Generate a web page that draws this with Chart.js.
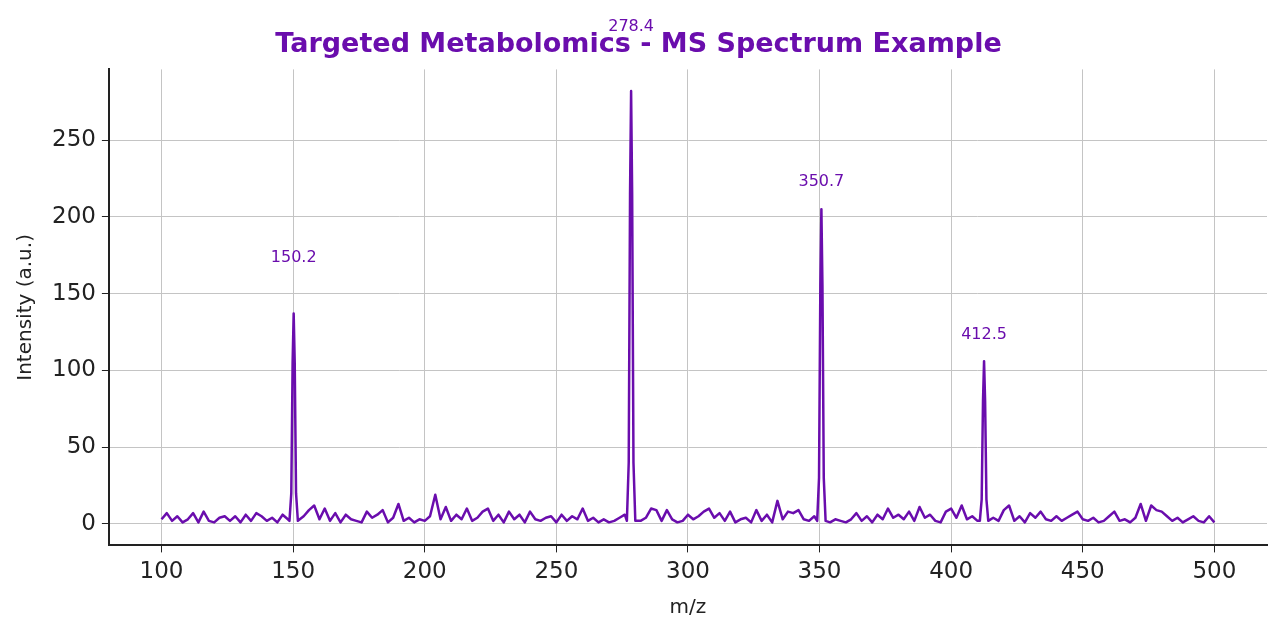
<!DOCTYPE html>
<html>
<head>
<meta charset="utf-8">
<script src="https://cdn.jsdelivr.net/npm/chart.js@4"></script>
<style>
  body { margin: 0; background: #fff; }
  #wrap { width: 1283px; height: 632px; }
</style>
</head>
<body>
<div id="wrap"><canvas id="spec" width="1283" height="632"></canvas></div>
<script>
// baseline noise, sampled every 2 m/z from 100 to 500
const noiseStart = 100;
const noiseStep = 2;
const noise = [
  3,7,2,5,1,3,7,1,8,2,   1,4,5,2,5,1,6,2,7,5,
  2,4,1,6,3,2,1,5,9,12,  3,10,2,7,1,6,3,2,1,8,
  4,6,9,1,4,13,2,4,1,3,  2,5,19,3,11,2,6,3,10,2,
  4,8,10,2,6,1,8,3,6,1,  8,3,2,4,5,1,6,2,5,3,
  10,2,4,1,3,1,2,4,6,2,  3,2,4,10,9,2,9,3,1,2,
  6,3,5,8,10,4,7,2,8,1,  3,4,1,9,2,6,1,15,3,8,
  7,9,3,2,5,2,1,1,3,2,   1,3,7,2,5,1,6,3,10,4,
  6,3,8,2,11,4,6,2,1,8,  10,4,12,3,5,2,1,8,4,2,
  9,12,2,5,1,7,4,8,3,2,  5,2,4,6,8,3,2,4,1,2,
  5,8,2,3,1,4,13,2,12,9, 8,5,2,4,1,3,5,2,1,5,
  1
];

// targeted peaks
const peakMz = [150.2, 278.4, 350.7, 412.5];
const peakX = [
  [148.6, 149.3, 149.8, 150.2, 150.6, 151.1, 151.8],
  [276.8, 277.5, 278.0, 278.4, 278.8, 279.3, 280.0],
  [349.1, 349.8, 350.3, 350.7, 351.1, 351.6, 352.3],
  [410.9, 411.6, 412.1, 412.5, 412.9, 413.4, 414.1]
];
const peakY = [
  [2, 20, 105, 137, 105, 20, 2],
  [2, 40, 215, 282, 215, 40, 2],
  [2, 30, 155, 205, 155, 30, 2],
  [2, 16, 80, 106, 80, 16, 2]
];
const labelY = [173, 324, 223, 123];

const purple = '#6a0dad';
const points = [];
noise.forEach((v, i) => {
  const x = noiseStart + i * noiseStep;
  if (peakMz.some(p => Math.abs(p - x) < 2)) return;
  points.push({ x: x, y: v });
});
peakX.forEach((xs, k) => xs.forEach((x, j) => points.push({ x: x, y: peakY[k][j] })));
points.sort((a, b) => a.x - b.x);

// peak labels above each target
const peakLabels = {
  id: 'peakLabels',
  afterDraw(chart) {
    const { ctx, scales: { x, y } } = chart;
    ctx.save();
    ctx.fillStyle = purple;
    ctx.font = '16px "DejaVu Sans"';
    ctx.textAlign = 'center';
    ctx.textBaseline = 'middle';
    peakMz.forEach((m, k) => {
      ctx.fillText(m.toFixed(1), x.getPixelForValue(m), y.getPixelForValue(labelY[k]));
    });
    ctx.restore();
  }
};

const grid = { color: '#c4c4c4', lineWidth: 1, tickLength: 7, tickColor: '#222' };

new Chart(document.getElementById('spec').getContext('2d'), {
  type: 'line',
  data: {
    datasets: [{
      data: points,
      borderColor: purple,
      borderWidth: 2.5,
      borderJoinStyle: 'round',
      pointRadius: 0,
      tension: 0,
      fill: false
    }]
  },
  options: {
    responsive: false,
    animation: false,
    layout: { padding: { left: 10, right: 16, top: 0, bottom: 8 } },
    plugins: {
      legend: { display: false },
      tooltip: { enabled: false },
      title: {
        display: true,
        text: 'Targeted Metabolomics - MS Spectrum Example',
        color: purple,
        font: { family: 'DejaVu Sans', size: 27, weight: 'bold' },
        padding: { top: 29, bottom: 8 }
      }
    },
    scales: {
      x: {
        type: 'linear',
        min: 80, max: 520,
        afterBuildTicks: s => { s.ticks = [100,150,200,250,300,350,400,450,500].map(v => ({ value: v })); },
        grid: grid,
        border: { color: '#222', width: 2 },
        ticks: { color: '#222', font: { family: 'DejaVu Sans', size: 23 }, padding: 6, maxRotation: 0 },
        title: { display: true, text: 'm/z', color: '#222', font: { family: 'DejaVu Sans', size: 20 }, padding: { top: 4 } }
      },
      y: {
        min: -14, max: 296,
        afterBuildTicks: s => { s.ticks = [0,50,100,150,200,250].map(v => ({ value: v })); },
        grid: grid,
        border: { color: '#222', width: 2 },
        ticks: { color: '#222', font: { family: 'DejaVu Sans', size: 23 }, padding: 6 },
        title: { display: true, text: 'Intensity (a.u.)', color: '#222', font: { family: 'DejaVu Sans', size: 20 }, padding: { bottom: 8 } }
      }
    }
  },
  plugins: [peakLabels]
});
</script>
</body>
</html>
